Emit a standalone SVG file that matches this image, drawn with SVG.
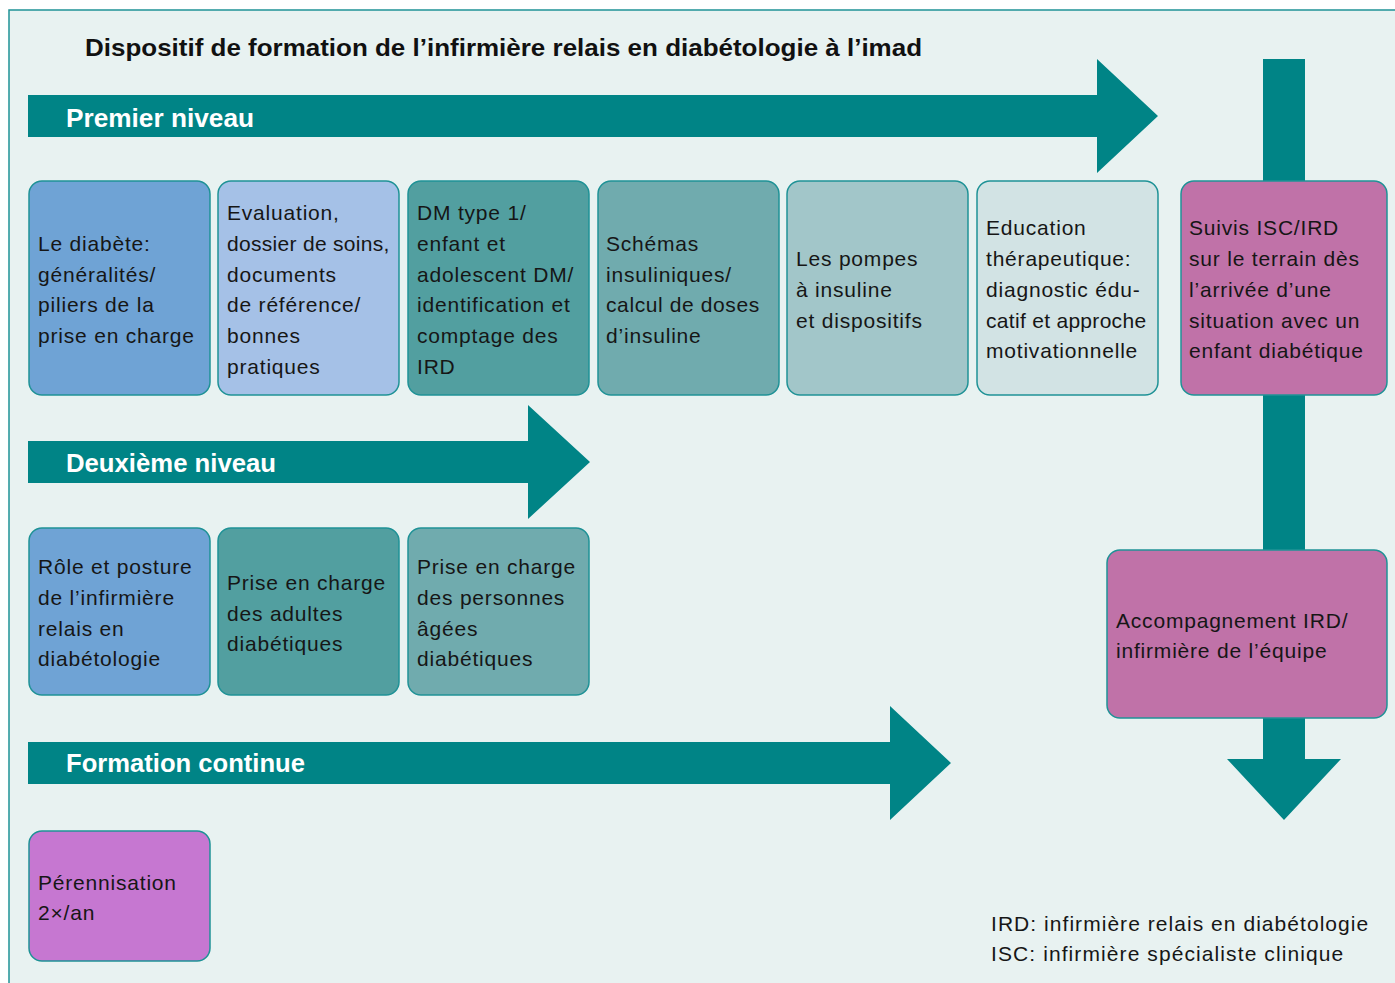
<svg xmlns="http://www.w3.org/2000/svg" width="1395" height="983" viewBox="0 0 1395 983">
<style>
.box{stroke:#1f9296;stroke-width:1.5}
.t{font-family:"Liberation Sans",Arial,sans-serif;font-size:21px;letter-spacing:0.8px;fill:#161616}
.h{font-family:"Liberation Sans",Arial,sans-serif;font-size:25px;font-weight:bold;fill:#ffffff}
.arrow{fill:#008486}
</style>
<rect x="0" y="0" width="1395" height="983" fill="#ffffff"/>
<rect x="9" y="10" width="1400" height="990" fill="#e8f2f1" stroke="#1f9296" stroke-width="1.5"/>
<text x="85" y="56" font-family="'Liberation Sans',Arial,sans-serif" font-size="24" font-weight="bold" fill="#111" textLength="837" lengthAdjust="spacingAndGlyphs">Dispositif de formation de l’infirmière relais en diabétologie à l’imad</text>

<g id="connectors">
<polygon class="arrow" points="28,95 1097,95 1097,59 1158,116 1097,173 1097,137 28,137"/>
<polygon class="arrow" points="28,441 528,441 528,405 590,462 528,519 528,483 28,483"/>
<polygon class="arrow" points="28,742 890,742 890,706 951,763 890,820 890,784 28,784"/>
<polygon class="arrow" points="1263,59 1305,59 1305,759 1341,759 1284,820 1227,759 1263,759"/>
</g>

<g id="label-premier"><text class="h" x="66" y="127" textLength="188" lengthAdjust="spacingAndGlyphs">Premier niveau</text></g>
<g id="label-deuxieme"><text class="h" x="66" y="472" textLength="210" lengthAdjust="spacingAndGlyphs">Deuxième niveau</text></g>
<g id="label-formation"><text class="h" x="66" y="772" textLength="239" lengthAdjust="spacingAndGlyphs">Formation continue</text></g>

<g id="n1">
<rect class="box" x="29" y="181" width="181" height="214" rx="13" fill="#6fa3d5"/>
<text class="t" x="38" y="251">Le diabète:</text>
<text class="t" x="38" y="282">généralités/</text>
<text class="t" x="38" y="312">piliers de la</text>
<text class="t" x="38" y="343">prise en charge</text>
</g>
<g id="n2">
<rect class="box" x="218" y="181" width="181" height="214" rx="13" fill="#a5c1e7"/>
<text class="t" x="227" y="220">Evaluation,</text>
<text class="t" x="227" y="251" style="letter-spacing:0.3px">dossier de soins,</text>
<text class="t" x="227" y="282">documents</text>
<text class="t" x="227" y="312">de référence/</text>
<text class="t" x="227" y="343">bonnes</text>
<text class="t" x="227" y="374">pratiques</text>
</g>
<g id="n3">
<rect class="box" x="408" y="181" width="181" height="214" rx="13" fill="#529fa0"/>
<text class="t" x="417" y="220">DM type 1/</text>
<text class="t" x="417" y="251">enfant et</text>
<text class="t" x="417" y="282">adolescent DM/</text>
<text class="t" x="417" y="312">identification et</text>
<text class="t" x="417" y="343">comptage des</text>
<text class="t" x="417" y="374">IRD</text>
</g>
<g id="n4">
<rect class="box" x="598" y="181" width="181" height="214" rx="13" fill="#70abae"/>
<text class="t" x="606" y="251">Schémas</text>
<text class="t" x="606" y="282">insuliniques/</text>
<text class="t" x="606" y="312" style="letter-spacing:0.6px">calcul de doses</text>
<text class="t" x="606" y="343">d’insuline</text>
</g>
<g id="n5">
<rect class="box" x="787" y="181" width="181" height="214" rx="13" fill="#a2c6c9"/>
<text class="t" x="796" y="266">Les pompes</text>
<text class="t" x="796" y="297">à insuline</text>
<text class="t" x="796" y="328">et dispositifs</text>
</g>
<g id="n6">
<rect class="box" x="977" y="181" width="181" height="214" rx="13" fill="#d2e3e4"/>
<text class="t" x="986" y="235">Education</text>
<text class="t" x="986" y="266">thérapeutique:</text>
<text class="t" x="986" y="297">diagnostic édu-</text>
<text class="t" x="986" y="328" style="letter-spacing:0.3px">catif et approche</text>
<text class="t" x="986" y="358">motivationnelle</text>
</g>
<g id="n7">
<rect class="box" x="1181" y="181" width="206" height="214" rx="13" fill="#c072a8"/>
<text class="t" x="1189" y="235">Suivis ISC/IRD</text>
<text class="t" x="1189" y="266">sur le terrain dès</text>
<text class="t" x="1189" y="297">l’arrivée d’une</text>
<text class="t" x="1189" y="328">situation avec un</text>
<text class="t" x="1189" y="358">enfant diabétique</text>
</g>

<g id="n8">
<rect class="box" x="29" y="528" width="181" height="167" rx="13" fill="#6fa3d5"/>
<text class="t" x="38" y="574">Rôle et posture</text>
<text class="t" x="38" y="605">de l’infirmière</text>
<text class="t" x="38" y="636">relais en</text>
<text class="t" x="38" y="666">diabétologie</text>
</g>
<g id="n9">
<rect class="box" x="218" y="528" width="181" height="167" rx="13" fill="#529fa0"/>
<text class="t" x="227" y="590">Prise en charge</text>
<text class="t" x="227" y="621">des adultes</text>
<text class="t" x="227" y="651">diabétiques</text>
</g>
<g id="n10">
<rect class="box" x="408" y="528" width="181" height="167" rx="13" fill="#70abae"/>
<text class="t" x="417" y="574">Prise en charge</text>
<text class="t" x="417" y="605">des personnes</text>
<text class="t" x="417" y="636">âgées</text>
<text class="t" x="417" y="666">diabétiques</text>
</g>

<g id="n11">
<rect class="box" x="1107" y="550" width="280" height="168" rx="13" fill="#c072a8"/>
<text class="t" x="1116" y="628">Accompagnement IRD/</text>
<text class="t" x="1116" y="658">infirmière de l’équipe</text>
</g>

<g id="n12">
<rect class="box" x="29" y="831" width="181" height="130" rx="13" fill="#c677d1"/>
<text class="t" x="38" y="890">Pérennisation</text>
<text class="t" x="38" y="920">2×/an</text>
</g>

<g id="legend">
<text class="t" x="991" y="931" textLength="378" lengthAdjust="spacing">IRD: infirmière relais en diabétologie</text>
<text class="t" x="991" y="961" textLength="353" lengthAdjust="spacing">ISC: infirmière spécialiste clinique</text>
</g>
</svg>
